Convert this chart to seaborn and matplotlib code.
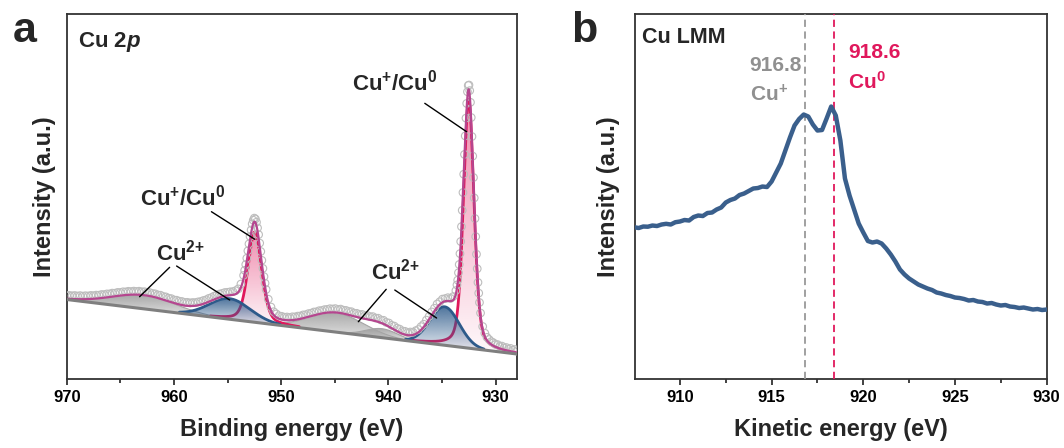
import numpy as np
import pandas as pd
import matplotlib
matplotlib.use("Agg")
import matplotlib.pyplot as plt
import seaborn as sns
from matplotlib.colors import to_rgb
from matplotlib.patches import PathPatch
from matplotlib.ticker import MultipleLocator

# ---------------- data: panel a (Cu 2p XPS fit) ----------------
pk_center = [932.5, 934.75, 940.6, 944.8, 952.45, 954.8, 962.8]
pk_height = [249.0, 38.5, 9.0, 19.0, 90.5, 20.6, 13.5]
pk_fwhm = [1.15, 3.2, 3.5, 6.0, 1.5, 4.5, 7.0]
pk_eta = [0.35, 0.0, 0.0, 0.0, 0.35, 0.0, 0.0]
pk_kind = ["red", "blue", "gray", "gray", "red", "blue", "gray"]
bg_energy = [928.0, 970.0]
bg_level = [24.5, 79.0]

# measured Cu 2p points (open circles)
be_meas = np.concatenate([np.arange(928.0, 931.45, 0.2), np.arange(931.5, 933.65, 0.07),
                          np.arange(933.7, 951.35, 0.25), np.arange(951.4, 953.45, 0.1),
                          np.arange(953.5, 970.01, 0.25)])
int_meas = [27.5, 29.0, 28.3, 30.1, 29.4, 31.0, 30.6, 32.4, 32.0, 33.9,
            34.1, 35.8, 36.9, 39.0, 41.2, 45.3, 52.0, 65.5, 76.0, 85.4,
            96.1, 109.8, 124.3, 141.9, 160.0, 180.6, 201.0, 222.4, 242.0, 261.0,
            276.2, 287.9, 293.5, 293.0, 286.8, 275.1, 260.4, 242.6, 224.1, 204.3,
            186.0, 168.2, 151.9, 137.0, 124.9, 114.0, 105.8, 98.4, 93.6, 87.9,
            82.0, 80.1, 80.8, 79.9, 79.4, 76.8, 74.5, 70.3, 66.6, 62.1,
            58.4, 54.3, 51.9, 49.0, 47.8, 46.2, 46.5, 45.9, 47.2, 47.6,
            49.4, 50.3, 52.4, 53.2, 55.5, 56.1, 58.2, 58.6, 60.3, 60.5,
            61.9, 61.8, 63.0, 62.9, 64.1, 64.0, 65.2, 65.4, 66.8, 67.0,
            68.1, 68.3, 69.4, 69.0, 69.9, 69.5, 69.8, 69.1, 68.9, 68.0,
            67.8, 66.7, 66.5, 65.3, 64.9, 63.8, 63.6, 62.5, 62.4, 61.6,
            61.7, 61.0, 61.5, 61.3, 62.2, 62.7, 64.6, 66.8, 71.5, 79.3,
            89.0, 95.3, 101.9, 110.1, 118.2, 127.0, 135.4, 143.9, 150.6, 156.3,
            159.5, 160.4, 158.3, 154.6, 148.5, 142.1, 134.6, 127.7, 120.3, 114.0,
            108.2, 103.1, 94.5, 89.6, 87.8, 86.9, 86.7, 86.2, 86.0, 85.1,
            84.5, 83.2, 82.4, 81.0, 80.1, 78.7, 78.0, 77.0, 76.6, 75.9,
            76.0, 75.6, 76.2, 76.1, 77.0, 77.3, 78.3, 78.6, 79.9, 80.3,
            81.6, 82.0, 83.3, 83.6, 84.7, 85.0, 85.9, 86.0, 86.8, 86.7,
            87.3, 87.0, 87.4, 86.9, 87.2, 86.6, 86.7, 86.0, 86.1, 85.3,
            85.4, 84.6, 84.6, 83.9, 84.0, 83.3, 83.4, 82.8, 83.1, 82.5,
            82.8, 82.4, 82.9, 82.5, 83.0, 82.7, 83.1, 82.9]

# ---------------- data: panel b (Cu LMM) ----------------
ke = [907.5, 907.75, 908.0, 908.25, 908.5, 908.75, 909.0, 909.25, 909.5, 909.75,
      910.0, 910.25, 910.5, 910.75, 911.0, 911.25, 911.5, 911.75, 912.0, 912.25,
      912.5, 912.75, 913.0, 913.25, 913.5, 913.75, 914.0, 914.25, 914.5, 914.75,
      915.0, 915.25, 915.5, 915.75, 916.0, 916.25, 916.5, 916.75, 917.0, 917.25,
      917.5, 917.75, 918.0, 918.25, 918.5, 918.75, 919.0, 919.25, 919.5, 919.75,
      920.0, 920.25, 920.5, 920.75, 921.0, 921.25, 921.5, 921.75, 922.0, 922.25,
      922.5, 922.75, 923.0, 923.25, 923.5, 923.75, 924.0, 924.25, 924.5, 924.75,
      925.0, 925.25, 925.5, 925.75, 926.0, 926.25, 926.5, 926.75, 927.0, 927.25,
      927.5, 927.75, 928.0, 928.25, 928.5, 928.75, 929.0, 929.25, 929.5, 929.75,
      930.0]
lmm = [151.3, 150.5, 152.0, 151.8, 153.0, 152.5, 154.0, 154.7, 154.0, 156.3,
       157.0, 158.5, 158.0, 161.5, 163.0, 162.5, 165.5, 166.0, 169.0, 171.0,
       176.0, 178.5, 180.0, 183.5, 185.0, 187.5, 190.0, 190.5, 192.0, 191.5,
       197.0, 206.0, 215.0, 228.0, 241.0, 253.0, 259.5, 264.0, 262.0, 254.0,
       248.0, 248.5, 260.0, 272.0, 263.0, 238.0, 200.0, 183.0, 169.0, 155.0,
       146.0, 137.5, 136.0, 137.0, 135.0, 130.0, 124.0, 117.0, 109.0, 104.0,
       100.0, 97.0, 94.0, 92.0, 90.0, 88.5, 86.0, 85.0, 83.5, 82.5,
       81.0, 80.5, 79.5, 78.0, 78.5, 77.0, 76.5, 75.0, 75.5, 74.0,
       73.0, 73.5, 72.0, 71.5, 70.5, 71.0, 70.0, 69.0, 69.5, 68.5,
       69.0]
ref_lines = [916.8, 918.4]
ref_labels = ["916.8", "918.6"]
ref_states = ["Cu$^{+}$", "Cu$^{0}$"]

# ---------------- style ----------------
sns.set_theme(style="ticks")
plt.rcParams.update({
    "font.family": ["Liberation Sans", "DejaVu Sans"],
    "font.weight": "bold",
    "mathtext.fontset": "custom",
    "mathtext.rm": "Liberation Sans:bold",
    "mathtext.bf": "Liberation Sans:bold",
    "mathtext.it": "Liberation Sans:bold:italic",
    "axes.linewidth": 1.3,
    "axes.edgecolor": "#333333",
    "xtick.color": "#333333",
    "xtick.labelcolor": "black",
    "xtick.direction": "out",
    "xtick.major.size": 4.3,
    "xtick.minor.size": 2.7,
    "xtick.major.width": 1.3,
    "xtick.minor.width": 1.3,
    "xtick.labelsize": 12,
    "xtick.major.pad": 4,
    "xtick.minor.visible": True,
})

RED = "#e0185c"
BLUE = "#2d5a8a"
GRAY = "#9a9a9a"
ENV = "#b5468f"
LMM_BLUE = "#3a5f8c"

fig = plt.figure(figsize=(10.64, 4.48), dpi=100)
axa = fig.add_axes([0.0627, 0.1551, 0.4232, 0.8136])
axb = fig.add_axes([0.5968, 0.1551, 0.3869, 0.8136])


def pvoigt(x, c, h, w, eta):
    g = np.exp(-4 * np.log(2) * ((x - c) / w) ** 2)
    l = 1.0 / (1.0 + 4 * ((x - c) / w) ** 2)
    return h * ((1 - eta) * g + eta * l)


def grad_fill(ax, x, y0, y1, color, a_top, a_bot, z):
    poly = ax.fill_between(x, y0, y1, facecolor="none", edgecolor="none")
    path = poly.get_paths()[0]
    patch = PathPatch(path, transform=ax.transData, facecolor="none", edgecolor="none")
    ax.add_patch(patch)
    n = 256
    rgba = np.zeros((n, 1, 4))
    rgba[..., :3] = to_rgb(color)
    rgba[:, 0, 3] = np.linspace(a_bot, a_top, n)
    im = ax.imshow(rgba, extent=[x.min(), x.max(), y0.min(), y1.max()],
                   origin="lower", aspect="auto", zorder=z, interpolation="bilinear")
    im.set_clip_path(patch)


# ---------------- panel a ----------------
xe = np.linspace(928.0, 970.0, 2400)
base = np.interp(xe, bg_energy, bg_level)
comps = [pvoigt(xe, c, h, w, e) for c, h, w, e in zip(pk_center, pk_height, pk_fwhm, pk_eta)]
env = base + np.sum(comps, axis=0)

style = {"gray": (GRAY, 0.85, 0.25, 2.0), "red": (RED, 0.5, 0.03, 3.0), "blue": (BLUE, 0.85, 0.12, 4.0)}
for comp, kind in zip(comps, pk_kind):
    m = comp > 1.0
    col, at, ab, z = style[kind]
    grad_fill(axa, xe[m], base[m], base[m] + comp[m], col, at, ab, z)
    if kind == "gray":
        axa.plot(xe[m], base[m] + comp[m], color="#a5a5a5", lw=0.8, zorder=z + 0.1)
    else:
        axa.plot(xe[m], base[m] + comp[m], color=col, lw=2.0, zorder=z + 0.5)

dfa = pd.DataFrame({"be": be_meas, "counts": int_meas})
sns.scatterplot(data=dfa, x="be", y="counts", ax=axa, marker="o", s=30, facecolor="none",
                edgecolor="#bdbdbd", linewidth=0.8, zorder=5, legend=False)

axa.plot(xe, env, color=ENV, lw=1.6, zorder=6)
axa.plot(xe, base, color="#7f7f7f", lw=2.2, zorder=6.5)

axa.set_xlim(970, 928)
axa.set_ylim(0, 364.5)
axa.set_yticks([])
axa.xaxis.set_major_locator(MultipleLocator(10))
axa.xaxis.set_minor_locator(MultipleLocator(5))
axa.set_xlabel("Binding energy (eV)", fontsize=17, fontweight="bold", labelpad=9)
axa.set_ylabel("Intensity (a.u.)", fontsize=17, fontweight="bold", labelpad=8)
axa.text(0.025, 0.91, r"Cu 2$\mathit{p}$", transform=axa.transAxes, fontsize=16,
         fontweight="bold", ha="left", va="baseline")

ann = dict(color="black", lw=1.0, zorder=8)
label_cu = r"Cu$^{+}$/Cu$^{0}$"
label_c2 = r"Cu$^{2{+}}$"
axa.text(939.4, 295.5, label_cu, fontsize=16, ha="center", va="center", zorder=9)
axa.plot([936.6, 932.7], [275.2, 246.8], **ann)
axa.text(959.15, 180.5, label_cu, fontsize=16, ha="center", va="center", zorder=9)
axa.plot([956.5, 952.45], [166.8, 139.2], **ann)
axa.text(959.4, 125.5, label_c2, fontsize=16, ha="center", va="center", zorder=9)
axa.plot([960.4, 963.2], [111.2, 81.8], **ann)
axa.plot([959.75, 954.8], [112.5, 78.5], **ann)
axa.text(939.3, 106.5, label_c2, fontsize=16, ha="center", va="center", zorder=9)
axa.plot([940.2, 942.8], [89.2, 56.8], **ann)
axa.plot([939.4, 935.5], [88.5, 60.5], **ann)

# ---------------- panel b ----------------
dfb = pd.DataFrame({"ke": ke, "lmm": lmm})
sns.lineplot(data=dfb, x="ke", y="lmm", ax=axb, color=LMM_BLUE, lw=3.2, zorder=5)
axb.axvline(ref_lines[0], color="#999999", lw=1.3, ls=(0, (4, 2.5)), zorder=3)
axb.axvline(ref_lines[1], color=RED, lw=1.3, ls=(0, (4, 2.5)), zorder=3)
axb.text(913.8, 313.5, ref_labels[0], color="#909090", fontsize=15, ha="left", va="center")
axb.text(913.8, 284.2, ref_states[0], color="#909090", fontsize=15, ha="left", va="center")
axb.text(919.18, 326.2, ref_labels[1], color=RED, fontsize=15, ha="left", va="center")
axb.text(919.18, 296.8, ref_states[1], color=RED, fontsize=15, ha="left", va="center")
axb.text(0.0175, 0.92, "Cu LMM", transform=axb.transAxes, fontsize=15.5,
         fontweight="bold", ha="left", va="baseline")
axb.set_xlim(907.55, 930)
axb.set_ylim(0, 364.5)
axb.set_yticks([])
axb.xaxis.set_major_locator(MultipleLocator(5))
axb.xaxis.set_minor_locator(MultipleLocator(2.5))
axb.set_xlabel("Kinetic energy (eV)", fontsize=17, fontweight="bold", labelpad=9)
axb.set_ylabel("Intensity (a.u.)", fontsize=17, fontweight="bold", labelpad=11)

for ax in (axa, axb):
    for lab in ax.get_xticklabels():
        lab.set_fontweight("bold")

fig.text(13 / 1064, 1 - 41.7 / 448, "a", fontsize=31, fontweight="bold", ha="left", va="baseline")
fig.text(571 / 1064, 1 - 41.7 / 448, "b", fontsize=31, fontweight="bold", ha="left", va="baseline")

fig.savefig("out.png", dpi=100)
